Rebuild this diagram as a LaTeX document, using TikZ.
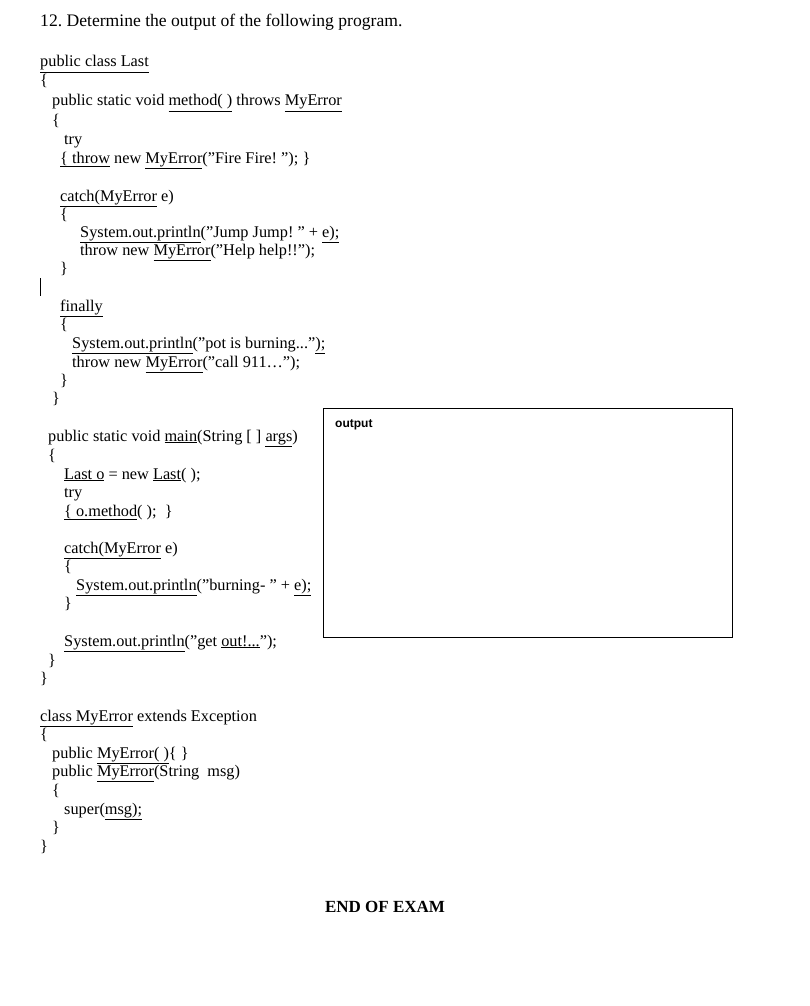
\documentclass[tikz,border=0pt]{standalone}
\usepackage{fontspec}
\setmainfont{Liberation Serif}[Ligatures=ResetAll]
\newfontfamily\arialf{Liberation Sans}
\frenchspacing
\begin{document}
\begin{tikzpicture}[x=1pt,y=-1pt,
  code/.style={anchor=base west,inner sep=0pt,yshift=-5pt,font=\fontsize{16.3}{18}\selectfont}]
\useasboundingbox (0,0) rectangle (809,1006);
\fill[white] (0,0) rectangle (809,1006);
\node[code,font=\fontsize{17.6}{19}\selectfont] (t0) at (40,22) {12. Determine the output of the following program.};
\node[code] (a1) at (40,62) {\underline{public class Last}};
\node[code] (a2) at (40,81) {\{};
\node[code] (a3) at (52,101) {public static void \underline{method( )} throws \underline{MyError}};
\node[code] (a4) at (52,120) {\{};
\node[code] (a5) at (64,139) {try};
\node[code] (a6) at (60,158) {\underline{\{ throw} new \underline{MyError}("Fire Fire! "); \}};
\node[code] (a7) at (60,196) {\underline{catch(MyError} e)};
\node[code] (a8) at (60,214) {\{};
\node[code] (a9) at (80,232) {\underline{System.out.println}("Jump Jump! " + \underline{e);}};
\node[code] (a10) at (80,250) {throw new \underline{MyError}("Help help!!");};
\node[code] (a11) at (60,268) {\}};
\draw (40,278) -- (40,296);
\node[code] (a12) at (60,306) {\underline{finally}};
\node[code] (a13) at (60,324) {\{};
\node[code] (a14) at (72,343) {\underline{System.out.println}("pot is burning..."\underline{);}};
\node[code] (a15) at (72,362) {throw new \underline{MyError}("call 911\ldots");};
\node[code] (a16) at (60,380) {\}};
\node[code] (a17) at (52,398) {\}};
\node[code] (b1) at (48,436) {public static void \underline{main}(String [ ] \underline{args})};
\node[code] (b2) at (48,455) {\{};
\node[code] (b3) at (64,474) {\underline{Last o} = new \underline{Last}( );};
\node[code] (b4) at (64,492) {try};
\node[code] (b5) at (64,511) {\underline{\{ o.method}( );\ \ \}};
\node[code] (b6) at (64,548) {\underline{catch(MyError} e)};
\node[code] (b7) at (64,566) {\{};
\node[code] (b8) at (76,585) {\underline{System.out.println}("burning- " + \underline{e);}};
\node[code] (b9) at (64,603) {\}};
\node[code] (b10) at (64,641) {\underline{System.out.println}("get \underline{out!...}");};
\node[code] (b11) at (48,660) {\}};
\node[code] (b12) at (40,678) {\}};
\node[code] (c1) at (40,716) {\underline{class MyError} extends Exception};
\node[code] (c2) at (40,734) {\{};
\node[code] (c3) at (52,753) {public \underline{MyError( )}\{ \}};
\node[code] (c4) at (52,771) {public \underline{MyError}(String\ \ msg)};
\node[code] (c5) at (52,790) {\{};
\node[code] (c6) at (64,809) {super(\underline{msg);}};
\node[code] (c7) at (52,827) {\}};
\node[code] (c8) at (40,846) {\}};
\node[anchor=center,inner sep=0pt,font=\fontsize{17}{19}\selectfont\bfseries] (end) at (385,907) {END OF EXAM};
\node[draw,thick,minimum width=409,minimum height=229,anchor=north west,inner sep=0pt] (box) at (323,408) {};
\node[anchor=west,inner sep=0pt,font=\arialf\bfseries\fontsize{12}{14}\selectfont] (out) at (335,425) {output};
\end{tikzpicture}
\end{document}
